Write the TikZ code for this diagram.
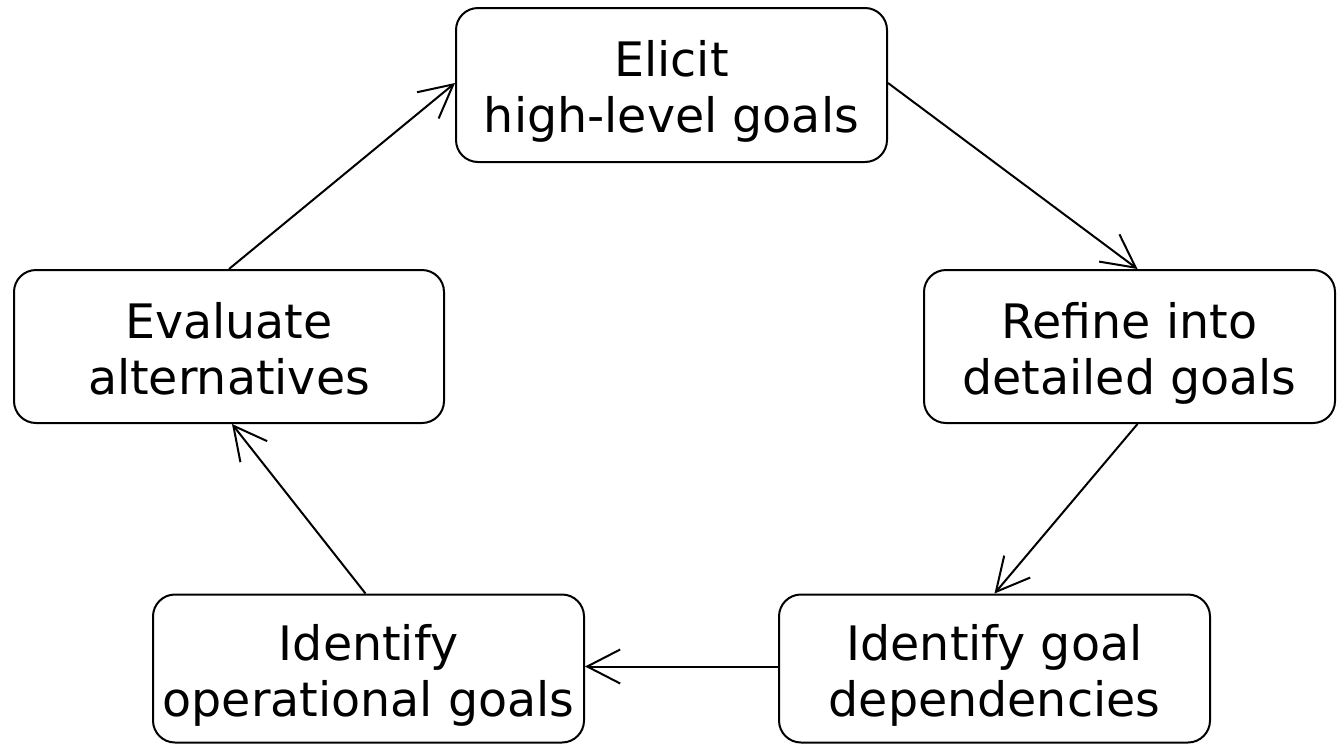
\documentclass[tikz,border=0pt]{standalone}
\usepackage{fontspec}
\setmainfont{DejaVu Sans}
\usetikzlibrary{arrows.meta}

% two-line label, first baseline fixed
\newcommand{\twolines}[2]{\begin{tabular}[t]{@{}c@{}}#1\\#2\end{tabular}}

\begin{document}
\begin{tikzpicture}[x=1pt, y=-1pt,
  stage/.style={draw, line width=2pt, rounded corners=22pt, inner sep=0pt,
    text height=40pt, text depth=57pt,
    font=\fontsize{47.5}{56}\selectfont},
  flow/.style={line width=2pt,
    -{Straight Barb[length=33pt, width=34pt, line width=2pt]}}
]
  \useasboundingbox (0,0) rectangle (1339,745);

  % process stages
  \node[stage, minimum width=431pt, minimum height=154pt] (elicit) at (671.5,85)
    {\twolines{Elicit}{high-level goals}};
  \node[stage, minimum width=411pt, minimum height=153pt] (refine) at (1129.5,346.5)
    {\twolines{Refine into}{detailed goals}};
  \node[stage, minimum width=431pt, minimum height=148pt] (deps) at (994.5,668.5)
    {\twolines{Identify goal}{dependencies}};
  \node[stage, minimum width=431pt, minimum height=148pt] (oper) at (368.5,668.5)
    {\twolines{Identify}{operational goals}};
  \node[stage, minimum width=430pt, minimum height=153pt] (eval) at (229,346.5)
    {\twolines{Evaluate}{alternatives}};

  % cycle connectors
  \draw[flow] ([yshift=2pt]elicit.east) -- ([xshift=8pt]refine.north);
  \draw[flow] ([xshift=8pt]refine.south) -- (deps.north);
  \draw[flow] ([yshift=2pt]deps.west) -- ([yshift=2pt]oper.east);
  \draw[flow] ([xshift=-3pt]oper.north) -- ([xshift=3pt]eval.south);
  \draw[flow] (eval.north) -- ([yshift=2pt]elicit.west);
\end{tikzpicture}
\end{document}
